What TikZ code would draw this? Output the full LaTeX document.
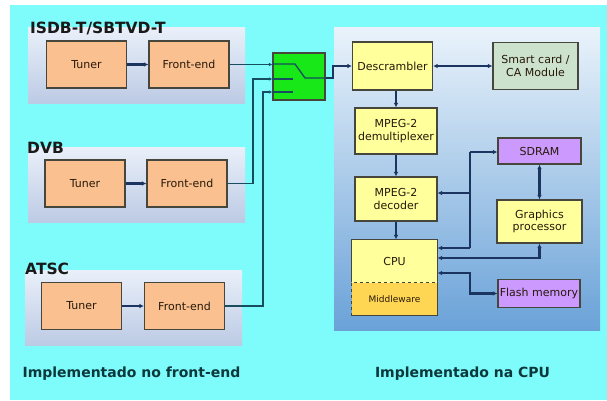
\documentclass[tikz,border=0pt]{standalone}
\usepackage{fontspec}
\setmainfont{DejaVu Sans}
\usetikzlibrary{arrows.meta}
\definecolor{bgcyan}{RGB}{126,252,252}
\definecolor{paneltop}{RGB}{234,240,250}
\definecolor{panelbot}{RGB}{188,202,228}
\definecolor{cputop}{RGB}{234,243,251}
\definecolor{cpubot}{RGB}{106,162,216}
\definecolor{feorange}{RGB}{250,192,143}
\definecolor{boxyellow}{RGB}{255,255,156}
\definecolor{mwyellow}{RGB}{255,214,84}
\definecolor{cagreen}{RGB}{204,226,204}
\definecolor{mempurple}{RGB}{204,153,255}
\definecolor{swgreen}{RGB}{24,232,24}
\definecolor{boxline}{RGB}{70,70,60}
\definecolor{boxtext}{RGB}{40,25,10}
\definecolor{navy}{RGB}{28,52,96}
\definecolor{teal}{RGB}{22,78,96}
\definecolor{labeltext}{RGB}{12,56,60}
\tikzset{
  box/.style={draw=boxline, line width=1.1pt, inner sep=1pt, align=center,
    font=\fontsize{11}{12.5}\selectfont, text=boxtext},
  fe/.style={box, fill=feorange, minimum width=80pt, minimum height=47pt},
  ybox/.style={box, fill=boxyellow, minimum width=82pt, minimum height=46pt},
  mbox/.style={box, fill=mempurple, minimum width=83pt},
  conn/.style={draw=navy, line width=2.1pt, -{Latex[length=4.5pt,width=4.5pt]}},
  dconn/.style={draw=navy, line width=2.1pt, {Latex[length=4.5pt,width=4.5pt]}-{Latex[length=4.5pt,width=4.5pt]}},
  bus/.style={draw=navy, line width=2.1pt},
  feed/.style={draw=teal, line width=1.6pt, -{Latex[length=3.5pt,width=3.5pt]}},
  contact/.style={draw=teal, line width=1.3pt},
  head/.style={font=\fontsize{15.5}{17}\bfseries\selectfont, text=black!90, inner sep=0pt, anchor=base west},
  foot/.style={font=\fontsize{14}{16}\bfseries\selectfont, text=labeltext, inner sep=0pt, anchor=base}
}
\begin{document}
\begin{tikzpicture}[x=1pt, y=-1pt]
  \useasboundingbox (0,0) rectangle (607,400);
  \fill[white] (0,0) rectangle (607,400);
  \fill[bgcyan] (10,5) rectangle (607,400);
  % panels
  \shade[top color=paneltop, bottom color=panelbot] (28,27) rectangle (245,103);
  \shade[top color=paneltop, bottom color=panelbot] (28,147) rectangle (245,222);
  \shade[top color=paneltop, bottom color=panelbot] (25,270) rectangle (242,345);
  \shade[top color=cputop, bottom color=cpubot] (334,27) rectangle (600,330);
  \node[head] (hisdb) at (30,33) {ISDB-T/SBTVD-T};
  \node[head] (hdvb) at (27,153) {DVB};
  \node[head] (hatsc) at (25,274) {ATSC};
  % front-end boxes
  \node[fe] (isdbtun) at (86.5,64.5) {Tuner};
  \node[fe] (isdbfe) at (189,64.5) {Front-end};
  \node[fe] (dvbtun) at (85,183.5) {Tuner};
  \node[fe] (dvbfe) at (187,183.5) {Front-end};
  \node[fe] (atsctun) at (81.5,306) {Tuner};
  \node[fe] (atscfe) at (184.5,306) {Front-end};
  \draw[conn] (isdbtun) -- (isdbfe);
  \draw[conn] (dvbtun) -- (dvbfe);
  \draw[conn] (atsctun) -- (atscfe);
  % switch
  \node[draw=boxline, line width=1.1pt, fill=swgreen, minimum width=52pt, minimum height=47pt] (sw) at (299,76.5) {};
  \coordinate (c1) at (295,64);
  \coordinate (c2) at (293,79);
  \coordinate (c3) at (293,92);
  \coordinate (piv) at (305,78);
  \coordinate (j2) at (253,79);
  \coordinate (j3) at (263,92);
  \draw[feed] (isdbfe.east) -- (isdbfe.east -| sw.west);
  \draw[feed] (dvbfe.east) -| (j2) -- (j2 -| sw.west);
  \draw[feed] (atscfe.east) -| (j3) -- (j3 -| sw.west);
  \draw[contact] (sw.west |- c1) -- (c1) -- (piv) -- (sw.east |- piv);
  \draw[contact] (sw.west |- c2) -- (c2);
  \draw[contact] (sw.west |- c3) -- (c3);
  % CPU side
  \node[box, fill=boxyellow, minimum width=80pt, minimum height=48pt] (desc) at (392.5,66) {Descrambler};
  \node[box, fill=cagreen, minimum width=85pt, minimum height=47pt] (smart) at (535.5,66) {Smart card /\\CA Module};
  \node[ybox] (demux) at (396,131) {MPEG-2\\demultiplexer};
  \node[ybox, minimum height=44pt] (dec) at (396,199) {MPEG-2\\decoder};
  \node[box, draw=none, fill=boxyellow, minimum width=85pt, minimum height=43pt] (cpu) at (394.5,261.5) {CPU};
  \node[box, draw=none, fill=mwyellow, minimum width=85pt, minimum height=32pt,
    font=\fontsize{9}{10}\selectfont] (mw) at (394.5,299) {Middleware};
  \draw[boxline, line width=1.1pt] (mw.north west) -- (cpu.north west) -- (cpu.north east)
    -- (mw.south east) -- (mw.south west);
  \draw[boxline, line width=1.1pt, dashed] (mw.south west) -- (mw.north west) -- (mw.north east);
  \node[mbox, minimum height=26pt] (sdram) at (539.5,151) {SDRAM};
  \node[box, fill=boxyellow, minimum width=85pt, minimum height=43pt] (gfx) at (539.5,221.5) {Graphics\\processor};
  \node[mbox, minimum width=82pt, minimum height=28pt] (flash) at (539,293.5) {Flash memory};
  \draw[conn] (sw.east |- piv) -- ++(7,0) |- (desc.west);
  \draw[dconn] (desc.east) -- (desc.east -| smart.west);
  \draw[conn] (demux.north |- desc.south) -- (demux.north);
  \draw[conn] (demux) -- (dec);
  \draw[conn] (dec) -- (dec |- cpu.north);
  % bus
  \coordinate (btop) at (470,152);
  \coordinate (bmid) at (470,193);
  \coordinate (bbot) at (470,248);
  \coordinate (gl) at (539.5,258);
  \coordinate (fl) at (470,273);
  \draw[bus] (btop) -- (bbot);
  \draw[conn] (btop) -- (btop -| sdram.west);
  \draw[conn] (bmid) -- (bmid -| dec.east);
  \draw[conn] (bbot) -- (bbot -| cpu.east);
  \draw[dconn] (sdram) -- (gfx);
  \draw[dconn] (gl -| cpu.east) -| (gfx.south);
  \draw[dconn] (fl -| cpu.east) -- (fl) |- (flash.west);
  % footer
  \node[foot] (fleft) at (131.5,377) {Implementado no front-end};
  \node[foot] (fright) at (462.5,377) {Implementado na CPU};
\end{tikzpicture}
\end{document}
